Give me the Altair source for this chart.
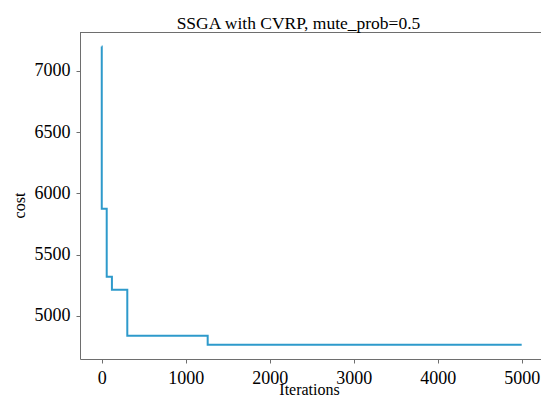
import altair as alt
import pandas as pd

iterations = [0, 1, 60, 122, 305, 1262, 5000]
cost = [7200, 5875, 5320, 5214, 4838, 4765, 4765]
x_ticks = [0, 1000, 2000, 3000, 4000, 5000]
y_ticks = [5000, 5500, 6000, 6500, 7000]

df = pd.DataFrame({"Iterations": iterations, "cost": cost})
frame_df = pd.DataFrame({"k": [0]})

FONT = "Liberation Serif"
AXIS_GRAY = "#6e6e6e"

line = alt.Chart(df).mark_line(
    interpolate="step-after", color="#2e9acb", strokeWidth=2, clip=True
).encode(
    x=alt.X(
        "Iterations:Q",
        scale=alt.Scale(domain=[-258, 5230], nice=False, zero=False),
        axis=alt.Axis(
            values=x_ticks, title="Iterations", grid=False, format="d",
            labelFont=FONT, labelFontSize=18, labelColor="black", labelPadding=6,
            labelFlush=False, tickColor=AXIS_GRAY, tickSize=4, domainColor=AXIS_GRAY,
            titleFont=FONT, titleFontSize=16, titleFontWeight="normal", titleColor="black",
            titleX=229, titleY=35, titleBaseline="alphabetic",
        ),
    ),
    y=alt.Y(
        "cost:Q",
        scale=alt.Scale(domain=[4649, 7318], nice=False, zero=False),
        axis=alt.Axis(
            values=y_ticks, title="cost", grid=False, format="d",
            labelFont=FONT, labelFontSize=18, labelColor="black", labelPadding=6,
            labelFlush=False, tickColor=AXIS_GRAY, tickSize=4, domainColor=AXIS_GRAY,
            titleFont=FONT, titleFontSize=16, titleFontWeight="normal", titleColor="black",
            titleX=-56, titleY=173, titleBaseline="alphabetic", titleAngle=270,
        ),
    ),
)

top_rule = alt.Chart(frame_df).mark_rule(color=AXIS_GRAY, strokeWidth=1).encode(
    y=alt.value(0.5)
)

chart = alt.layer(line, top_rule).properties(
    width=461,
    height=327,
    padding={"left": 80, "top": 32, "right": 0, "bottom": 39},
    autosize=alt.AutoSizeParams(type="none"),
    title=alt.TitleParams(
        "SSGA with CVRP, mute_prob=0.5", font=FONT, fontSize=17.5,
        fontWeight="normal", color="black", anchor="middle",
        dx=-12, dy=18, offset=4, baseline="alphabetic",
    ),
    background="white",
).configure_view(stroke=None)

chart.save("out.html", embed_options={"renderer": "svg", "actions": False})
